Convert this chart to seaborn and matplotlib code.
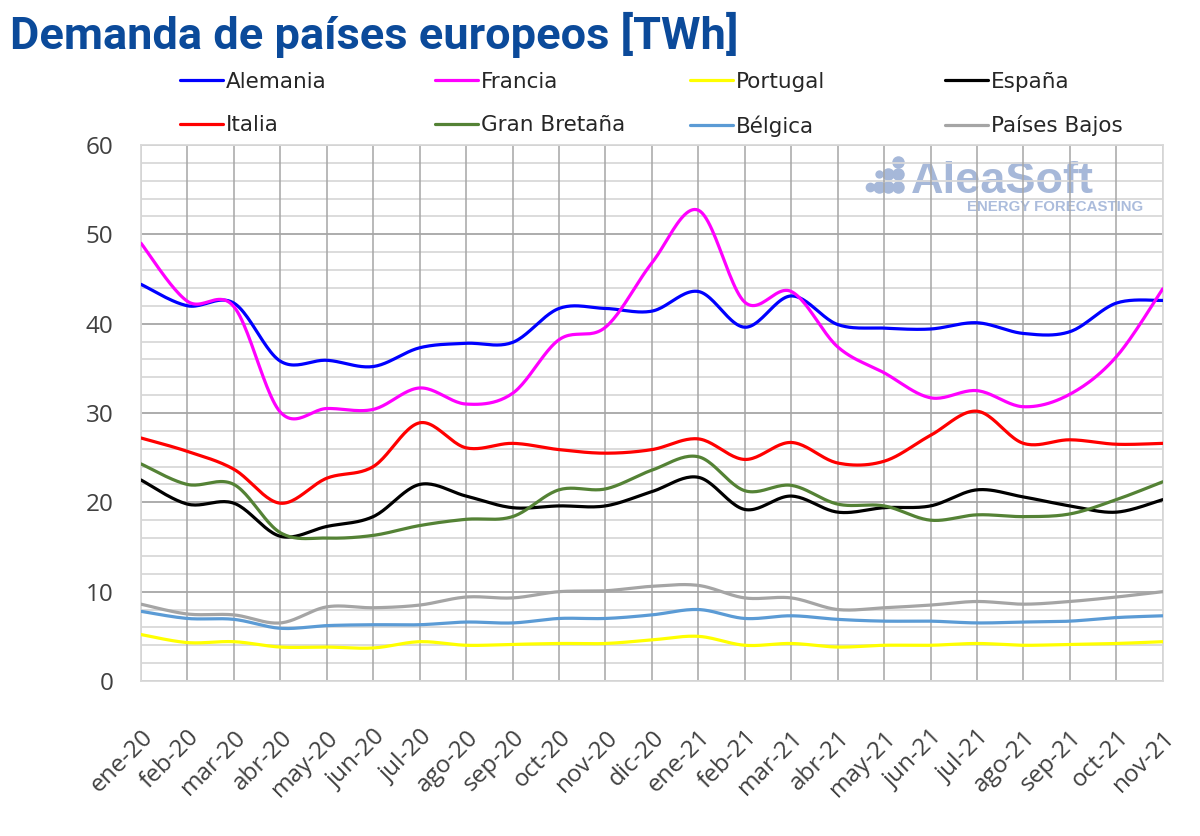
import numpy as np
import matplotlib
matplotlib.use("Agg")
import matplotlib.pyplot as plt
import seaborn as sns

meses = ["ene-20", "feb-20", "mar-20", "abr-20", "may-20", "jun-20", "jul-20",
         "ago-20", "sep-20", "oct-20", "nov-20", "dic-20", "ene-21", "feb-21",
         "mar-21", "abr-21", "may-21", "jun-21", "jul-21", "ago-21", "sep-21",
         "oct-21", "nov-21"]

alemania = [44.4, 42.0, 42.3, 35.8, 35.9, 35.2, 37.3, 37.8, 37.9, 41.7, 41.7, 41.4,
            43.6, 39.6, 43.1, 39.9, 39.5, 39.4, 40.1, 38.9, 39.1, 42.3, 42.6]
francia = [49.0, 42.5, 41.9, 30.1, 30.5, 30.4, 32.8, 31.0, 32.2, 38.2, 39.6, 46.8,
           52.7, 42.4, 43.6, 37.4, 34.5, 31.7, 32.5, 30.7, 32.1, 36.3, 43.9]
portugal = [5.2, 4.3, 4.4, 3.8, 3.8, 3.7, 4.4, 4.0, 4.1, 4.2, 4.2, 4.6,
            5.0, 4.0, 4.2, 3.8, 4.0, 4.0, 4.2, 4.0, 4.1, 4.2, 4.4]
espana = [22.5, 19.8, 19.9, 16.2, 17.3, 18.4, 22.0, 20.7, 19.4, 19.6, 19.6, 21.2,
          22.8, 19.2, 20.7, 18.9, 19.4, 19.6, 21.4, 20.6, 19.6, 18.9, 20.3]
italia = [27.2, 25.7, 23.7, 19.9, 22.7, 24.0, 28.9, 26.1, 26.6, 25.9, 25.5, 25.9,
          27.1, 24.8, 26.7, 24.4, 24.6, 27.5, 30.2, 26.6, 27.0, 26.5, 26.6]
gran_bretana = [24.3, 22.0, 22.0, 16.6, 16.0, 16.3, 17.4, 18.1, 18.4, 21.4, 21.5, 23.6,
                25.1, 21.3, 21.9, 19.8, 19.6, 18.0, 18.6, 18.4, 18.7, 20.3, 22.3]
belgica = [7.8, 7.0, 6.9, 5.9, 6.2, 6.3, 6.3, 6.6, 6.5, 7.0, 7.0, 7.4,
           8.0, 7.0, 7.3, 6.9, 6.7, 6.7, 6.5, 6.6, 6.7, 7.1, 7.3]
paises_bajos = [8.6, 7.5, 7.4, 6.5, 8.3, 8.2, 8.5, 9.4, 9.3, 10.0, 10.1, 10.6,
                10.7, 9.3, 9.3, 8.0, 8.2, 8.5, 8.9, 8.6, 8.9, 9.4, 10.0]

series = [
    ("Alemania", alemania, "#0000ff"),
    ("Francia", francia, "#ff00ff"),
    ("Portugal", portugal, "#ffff00"),
    ("España", espana, "#000000"),
    ("Italia", italia, "#ff0000"),
    ("Gran Bretaña", gran_bretana, "#548235"),
    ("Bélgica", belgica, "#5b9bd5"),
    ("Países Bajos", paises_bajos, "#a5a5a5"),
]


def suavizar(y, pasos=24):
    # curva tipo "linea suavizada" de Excel (Bezier con puntos de control Catmull-Rom)
    x = np.arange(len(y), dtype=float)
    y = np.asarray(y, dtype=float)
    xs, ys = [], []
    n = len(y)
    for i in range(n - 1):
        i0, i3 = max(i - 1, 0), min(i + 2, n - 1)
        p0 = np.array([x[i], y[i]])
        p3 = np.array([x[i + 1], y[i + 1]])
        c1 = p0 + (p3 - np.array([x[i0], y[i0]])) / 6.0
        c2 = p3 - (np.array([x[i3], y[i3]]) - p0) / 6.0
        t = np.linspace(0, 1, pasos, endpoint=(i == n - 2))[:, None]
        pts = (1 - t) ** 3 * p0 + 3 * (1 - t) ** 2 * t * c1 + 3 * (1 - t) * t ** 2 * c2 + t ** 3 * p3
        xs.append(pts[:, 0])
        ys.append(pts[:, 1])
    return np.concatenate(xs), np.concatenate(ys)


sns.set_style("white")
plt.rcParams['font.family'] = ['Open Sans', 'DejaVu Sans']

fig, ax = plt.subplots(figsize=(12, 8.36), dpi=100)
fig.subplots_adjust(left=0.1175, right=0.969, top=0.8266, bottom=0.1854)

# rejilla
for v in range(0, 61, 2):
    if v % 10 == 0:
        ax.axhline(v, color="#a6a6a6", lw=1.3, zorder=1)
    else:
        ax.axhline(v, color="#d9d9d9", lw=1.3, zorder=0.5)
for i in range(len(meses)):
    ax.axvline(i, color="#a6a6a6", lw=1.1, zorder=1)

# marca de agua (detras de la rejilla)
wm = "#a6b8d9"
dots_x = [898, 898, 898, 888, 888, 879, 870]
dots_y = [162, 174, 187, 174, 187, 187, 187]
dots_s = [9, 9, 9, 9, 9, 9, 7]
for dx, dy, ds in zip(dots_x, dots_y, dots_s):
    ax.plot(dx / 1200, 1 - dy / 836, "o", ms=ds, color=wm, mec="none",
            transform=fig.transFigure, clip_on=False, zorder=0.3)
ax.plot(879 / 1200, 1 - 174 / 836, "o", ms=6, color=wm, mec="none",
        transform=fig.transFigure, clip_on=False, zorder=0.3)
ax.text(911 / 1200, 1 - 193 / 836, "AleaSoft", fontsize=32.5, fontweight="bold",
        color=wm, va="baseline", ha="left", transform=fig.transFigure, zorder=0.3,
        family=["Liberation Sans", "DejaVu Sans"])
ax.text(1143 / 1200, 1 - 211 / 836, "ENERGY FORECASTING", fontsize=10.8,
        fontweight="bold", color="#abbcdc", va="baseline", ha="right",
        transform=fig.transFigure, zorder=0.3, family=["Liberation Sans", "DejaVu Sans"])

handles = {}
for nombre, vals, color in series:
    xs, ys = suavizar(vals)
    sns.lineplot(x=xs, y=ys, color=color, lw=2.3, ax=ax, sort=False,
                 estimator=None, label=nombre, zorder=3)
    handles[nombre] = ax.get_lines()[-1]
ax.get_legend().remove()

ax.set_xlim(0, len(meses) - 1)
ax.set_ylim(0, 60)
ax.set_yticks(range(0, 61, 10))
ax.set_xticks(range(len(meses)))
ax.set_xticklabels(meses, rotation=45, ha="right", va="top", rotation_mode="anchor")
ax.tick_params(axis="both", labelsize=17.5, colors="#404040", length=0)
ax.tick_params(axis="x", pad=32)
ax.tick_params(axis="y", pad=20)
for sp in ax.spines.values():
    sp.set_color("#d9d9d9")
    sp.set_linewidth(1.3)

# leyenda en 4 columnas
cols = [["Alemania", "Italia"], ["Francia", "Gran Bretaña"],
        ["Portugal", "Bélgica"], ["España", "Países Bajos"]]
xcol = [0.150, 0.3625, 0.575, 0.7875]
for xc, nombres in zip(xcol, cols):
    leg = fig.legend([handles[n] for n in nombres], nombres, loc="upper left",
                     bbox_to_anchor=(xc, 0.914), frameon=False,
                     handlelength=2.0, handletextpad=0.15, labelspacing=1.08,
                     borderpad=0, borderaxespad=0,
                     prop={"family": ["DejaVu Sans"], "size": 15.5})
    for t in leg.get_texts():
        t.set_color("#262626")

fig.text(0.008, 0.958, "Demanda de países europeos [TWh]", fontsize=32.5,
         fontweight="bold", color="#0b4a9a", va="center", ha="left",
         family=["Roboto", "DejaVu Sans"])

fig.savefig("out.png", dpi=100, facecolor="white")
